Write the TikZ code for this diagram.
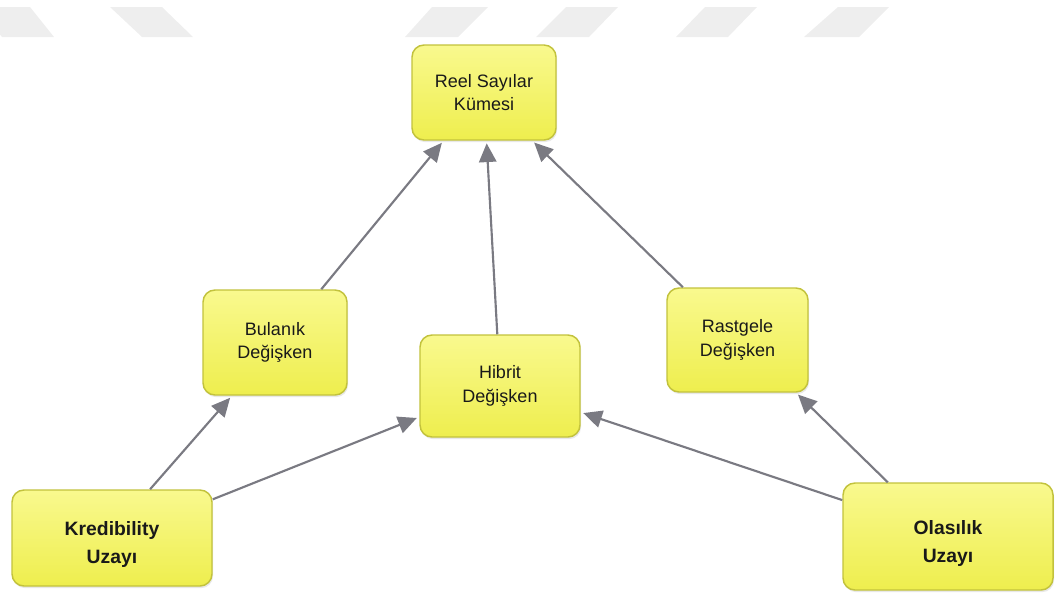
\documentclass[tikz,border=0pt]{standalone}
\usepackage{fontspec}
\setmainfont{Liberation Sans}
\usetikzlibrary{arrows.meta,shadows}
\definecolor{boxtop}{HTML}{F9F98E}
\definecolor{boxbot}{HTML}{EEEE4E}
\definecolor{boxline}{HTML}{C2C23C}
\definecolor{arrowgray}{HTML}{7A7A82}
\definecolor{stripe}{HTML}{EEEEEE}
\newcommand{\lowfirst}{\rule{0pt}{1.4em}}
\tikzset{
  ybox/.style={rectangle, rounded corners=9pt, draw=boxline, line width=1.1pt,
    top color=boxtop, bottom color=boxbot, inner sep=0pt, align=center,
    text=black!90, drop shadow={opacity=0.18, shadow xshift=0.8pt, shadow yshift=-1.6pt}},
  plain/.style={ybox, font=\fontsize{13.5}{17.5}\selectfont},
  strong/.style={ybox, font=\fontsize{14.5}{21}\selectfont\bfseries},
  link/.style={draw=arrowgray, line width=1.6pt,
    -{Triangle[length=14pt,width=13pt]}, shorten >=2pt},
  band/.style={fill=stripe, draw=none}
}
\begin{document}
\begin{tikzpicture}[x=0.75pt,y=-0.75pt]
\useasboundingbox (0,0) rectangle (1055,596);
\begin{scope}
\clip (0,0) rectangle (1055,596);
\fill[band] (-22,7) -- (30,7) -- (54,37) -- (2,37) -- cycle;
\fill[band] (110,7) -- (162,7) -- (193,37) -- (142,37) -- cycle;
\fill[band] (432,7) -- (488,7) -- (458,37) -- (405,37) -- cycle;
\fill[band] (566,7) -- (618,7) -- (589,37) -- (536,37) -- cycle;
\fill[band] (705,7) -- (757,7) -- (728,37) -- (676,37) -- cycle;
\fill[band] (838,7) -- (889,7) -- (859,37) -- (804,37) -- cycle;
\end{scope}

\node[plain, minimum width=108pt, minimum height=71.25pt] (reel) at (484,92.5) {Reel Sayılar\\Kümesi};
\node[plain, minimum width=108pt, minimum height=78.75pt] (bul) at (275,342.5) {Bulanık\\Değişken};
\node[plain, minimum width=120pt, minimum height=76.5pt] (hib) at (500,386) {Hibrit\\Değişken};
\node[plain, minimum width=105.75pt, minimum height=78pt] (ras) at (737.5,340) {Rastgele\\Değişken};
\node[strong, minimum width=150pt, minimum height=72pt] (kre) at (112,538) {\lowfirst Kredibility\\Uzayı};
\node[strong, minimum width=157.5pt, minimum height=80.25pt] (ola) at (948,536.5) {\lowfirst Olasılık\\Uzayı};

\draw[link] (bul.49) -- (reel.-130);
\draw[link] (hib.93) -- (reel.-87);
\draw[link] (ras.136) -- (reel.-45);
\draw[link] (kre.52) -- (bul.-129);
\draw[link] (kre.21) -- (hib.-159);
\draw[link] (ola.138) -- (ras.-42);
\draw[link] (ola.161) -- (hib.-18);
\end{tikzpicture}
\end{document}
